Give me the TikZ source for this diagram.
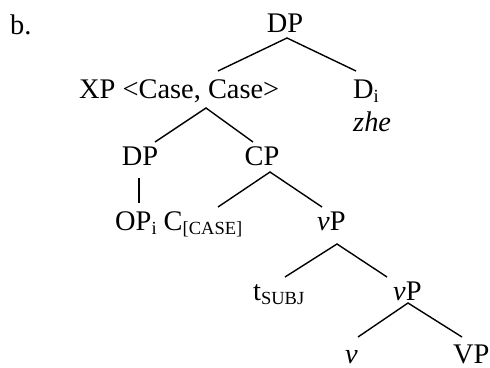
\documentclass[tikz,border=0pt]{standalone}
\usepackage{fontspec}
\setmainfont{Liberation Serif}
\newcommand\bigfs{\fontsize{28.4}{32}\selectfont}
\newcommand\sbs[1]{\raisebox{-4pt}{\fontsize{18.5}{20}\selectfont #1}}
\begin{document}
\begin{tikzpicture}[x=1pt,y=-1pt,
  lbl/.style={inner sep=0pt,font=\bigfs},
  br/.style={line width=1.4pt}]
\useasboundingbox (0,0) rectangle (490,367);
\node[lbl,anchor=base west] (ex) at (10,34) {b.};
\node[lbl,anchor=base] (dp) at (285,32) {DP};
\node[lbl,anchor=base west] (xp) at (79,98) {XP <Case, Case>};
\node[lbl,anchor=base west] (d) at (353,98) {D\sbs{i}};
\node[lbl,anchor=base west] (zhe) at (353,131) {\textit{zhe}};
\node[lbl,anchor=base] (dp2) at (140,165) {DP};
\node[lbl,anchor=base] (cp) at (262,165) {CP};
\node[lbl,anchor=base west] (op) at (115,230) {OP\sbs{i} C\sbs{[CASE]}};
\node[lbl,anchor=base west] (vp) at (317,230) {\textit{v}P};
\node[lbl,anchor=base west] (t) at (253,300) {t\sbs{SUBJ}};
\node[lbl,anchor=base west] (vp2) at (393,300) {\textit{v}P};
\node[lbl,anchor=base west] (v) at (345,363) {\textit{v}};
\node[lbl,anchor=base west] (vpp) at (453,363) {VP};
% branches
\draw[br] ([shift={(139,-27)}]xp.base west) -- ([shift={(2,6)}]dp.base) -- ([shift={(3,-27)}]d.base west);
\draw[br] ([shift={(15,-23)}]dp2.base) -- ([shift={(127,10)}]xp.base west) -- ([shift={(-9,-23)}]cp.base);
\draw[br] ([shift={(-1,13)}]dp2.base) -- ([shift={(24,-27)}]op.base west);
\draw[br] ([shift={(103,-23)}]op.base west) -- ([shift={(8,7)}]cp.base) -- ([shift={(5,-23)}]vp.base west);
\draw[br] ([shift={(32,-23)}]t.base west) -- ([shift={(20,14)}]vp.base west) -- ([shift={(-6,-23)}]vp2.base west);
\draw[br] ([shift={(13,-26)}]v.base west) -- ([shift={(15,3)}]vp2.base west) -- ([shift={(9,-26)}]vpp.base west);
\end{tikzpicture}
\end{document}
